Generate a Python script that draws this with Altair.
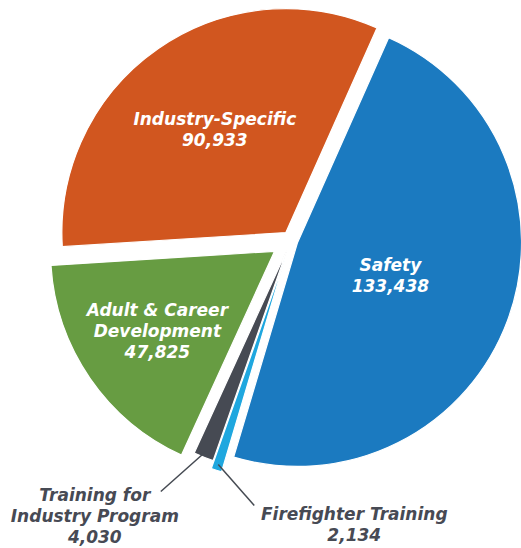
import math
import altair as alt
import pandas as pd

# ---- data ----
categories = ["Safety", "Firefighter Training", "Training for Industry Program",
              "Adult & Career Development", "Industry-Specific"]
label_lines = ["Safety", "Firefighter Training", "Training for|Industry Program",
               "Adult & Career|Development", "Industry-Specific"]
values = [133438, 2134, 4030, 47825, 90933]

# ---- styles ----
colors = ["#1b7ac0", "#1fa7df", "#464a53", "#679c42", "#d1561f"]
explode_px = {"Safety": 7, "Firefighter Training": 18, "Training for Industry Program": 10,
              "Adult & Career Development": 20, "Industry-Specific": 9}

W, H = 521, 548
CX, CY, R = 291, 240, 224
START = 24 * math.pi / 180
FONT = "DejaVu Sans"
FS = 17
LH = 21

df = pd.DataFrame({
    "category": categories,
    "label": label_lines,
    "value": values,
    "order": list(range(len(categories))),
    "explode": [explode_px[c] for c in categories],
})

base = (
    alt.Chart(df)
    .transform_window(cum="sum(value)", rank="row_number()",
                      sort=[alt.SortField("order")], frame=[None, 0])
    .transform_joinaggregate(total="sum(value)")
    .transform_calculate(t1=f"{START} + 2*PI*datum.cum/datum.total")
    .transform_calculate(t0="datum.t1 - 2*PI*datum.value/datum.total")
    .transform_calculate(mid="(datum.t0 + datum.t1)/2", alpha="datum.t1 - datum.t0")
    .transform_calculate(
        ax=f"{CX} + datum.explode*sin(datum.mid)",
        ay=f"{CY} - datum.explode*cos(datum.mid)",
        small="datum.value/datum.total < 0.03",
        side="datum.rank % 2 == 0 ? 1 : -1",
        lines="split(datum.label + '|' + format(datum.value, ','), '|')",
    )
    .transform_calculate(
        cr=f"4*{R}*sin(datum.alpha/2)/(3*datum.alpha)",
        sx=f"datum.ax + ({R}-6)*sin(datum.mid)",
        sy=f"datum.ay - ({R}-6)*cos(datum.mid)",
    )
    .transform_calculate(
        ex="datum.sx + (datum.side > 0 ? 36 : -45)",
        ey="datum.sy + (datum.side > 0 ? 41 : 40)",
    )
    .transform_calculate(
        lx="datum.small ? datum.ex + (datum.side > 0 ? 100 : -66) : datum.ax + datum.cr*sin(datum.mid)",
        lyc="datum.small ? datum.ey + (datum.side > 0 ? 20 : 26) : datum.ay - datum.cr*cos(datum.mid)",
    )
    .transform_calculate(ly=f"datum.lyc - (length(datum.lines) - 1)*{LH}/2")
)

arcs = base.mark_arc(radius=R, stroke="white", strokeWidth=1.2).encode(
    x=alt.X("ax:Q", scale=None, stack=False),
    y=alt.Y("ay:Q", scale=None, stack=False),
    theta=alt.Theta("t0:Q", scale=None, stack=False),
    theta2="t1:Q",
    color=alt.Color("category:N", scale=alt.Scale(domain=categories, range=colors), legend=None),
)

leaders = base.transform_filter("datum.small").mark_rule(color="#454a52", strokeWidth=1.5).encode(
    x=alt.X("sx:Q", scale=None), y=alt.Y("sy:Q", scale=None), x2="ex:Q", y2="ey:Q"
)

text_style = dict(font=FONT, fontSize=FS, fontStyle="italic", fontWeight=600, lineHeight=LH,
                  align="center", baseline="middle")

inside = base.transform_filter("!datum.small").mark_text(color="white", **text_style).encode(
    x=alt.X("lx:Q", scale=None), y=alt.Y("ly:Q", scale=None), text="lines:N"
)

outside = base.transform_filter("datum.small").mark_text(color="#474a54", **text_style).encode(
    x=alt.X("lx:Q", scale=None), y=alt.Y("ly:Q", scale=None), text="lines:N"
)

chart = (
    alt.layer(arcs, leaders, inside, outside)
    .properties(width=W, height=H, padding=0, autosize=alt.AutoSizeParams(type="none"))
    .configure_view(stroke=None)
)

chart.save("out.html", embed_options={"renderer": "svg", "actions": False})
